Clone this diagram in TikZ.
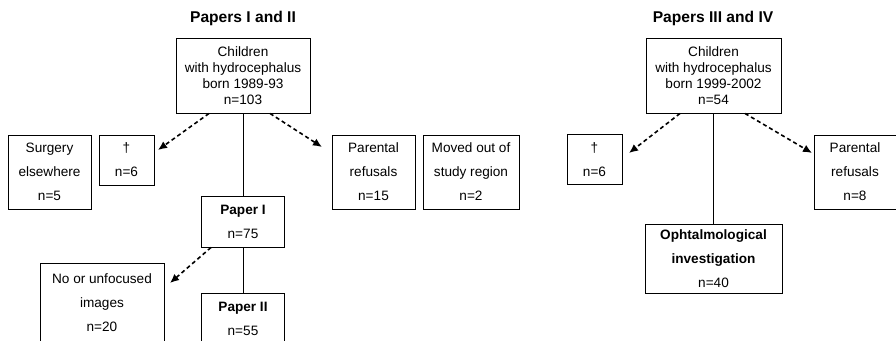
\documentclass[tikz,border=0pt]{standalone}
\usepackage{fontspec}
\setmainfont{Liberation Sans}
\usetikzlibrary{arrows.meta}
\begin{document}
\begin{tikzpicture}[x=1pt,y=-1pt,
  box/.style={draw,line width=0.9pt,rectangle,inner sep=0pt,align=center,
    font=\fontsize{13.6}{24}\selectfont},
  mainbox/.style={box,font=\fontsize{13.6}{16}\selectfont},
  ttl/.style={font=\fontsize{15.6}{18}\selectfont\bfseries,inner sep=0pt},
  link/.style={line width=0.8pt},
  dasharrow/.style={line width=1.6pt,dash pattern=on 4pt off 3pt,
    -{Latex[length=9pt,width=8pt]}}
]
\useasboundingbox (0,0) rectangle (896,340);
\clip (0,0) rectangle (896,340);
% left panel
\node[ttl] (titleL) at (243,18) {Papers I and II};
\node[mainbox,minimum width=134pt,minimum height=75pt] (mainL) at (243,75.5)
  {Children\\with hydrocephalus\\born 1989-93\\n=103};
\node[box,minimum width=83pt,minimum height=74pt] (surg) at (49.5,172)
  {Surgery\\elsewhere\\n=5};
\node[box,minimum width=55pt,minimum height=50pt] (dagL) at (126.5,160)
  {\textdagger\\n=6};
\node[box,minimum width=83pt,minimum height=74pt] (parL) at (373.5,172)
  {Parental\\refusals\\n=15};
\node[box,minimum width=96pt,minimum height=74pt] (moved) at (471,172)
  {Moved out of\\study region\\n=2};
\node[box,minimum width=83pt,minimum height=51pt] (paper1) at (243,221.5)
  {\textbf{Paper I}\\n=75};
\node[box,minimum width=124pt,minimum height=80pt] (nofoc) at (102,303)
  {No or unfocused\\images\\n=20};
\node[box,minimum width=83pt,minimum height=51pt] (paper2) at (243,318.5)
  {\textbf{Paper II}\\n=55};
\coordinate (aL1) at (158,150);
\coordinate (aL2) at (322,147);
\coordinate (aL3) at (170,283);
\draw[link] (mainL.south) -- (paper1.north);
\draw[link] (paper1.south) -- (paper2.north);
\draw[dasharrow] (mainL.south -| 209,0) -- (aL1);
\draw[dasharrow] (mainL.south -| 270,0) -- (aL2);
\draw[dasharrow] (paper1.south -| 211,0) -- (aL3);
% right panel
\node[ttl] (titleR) at (713,18) {Papers III and IV};
\node[mainbox,minimum width=135pt,minimum height=75pt] (mainR) at (713.5,75.5)
  {Children\\with hydrocephalus\\born 1999-2002\\n=54};
\node[box,minimum width=55pt,minimum height=50pt] (dagR) at (594.5,159.5)
  {\textdagger\\n=6};
\node[box,minimum width=82pt,minimum height=74pt] (parR) at (855,172)
  {Parental\\refusals\\n=8};
\node[box,minimum width=137pt,minimum height=69pt] (ophth) at (713.5,258.5)
  {\textbf{Ophtalmological}\\\textbf{investigation}\\n=40};
\coordinate (aR1) at (629,153);
\coordinate (aR2) at (812,153);
\draw[link] (mainR.south) -- (ophth.north);
\draw[dasharrow] (mainR.south -| 680,0) -- (aR1);
\draw[dasharrow] (mainR.south -| 745,0) -- (aR2);
\end{tikzpicture}
\end{document}
